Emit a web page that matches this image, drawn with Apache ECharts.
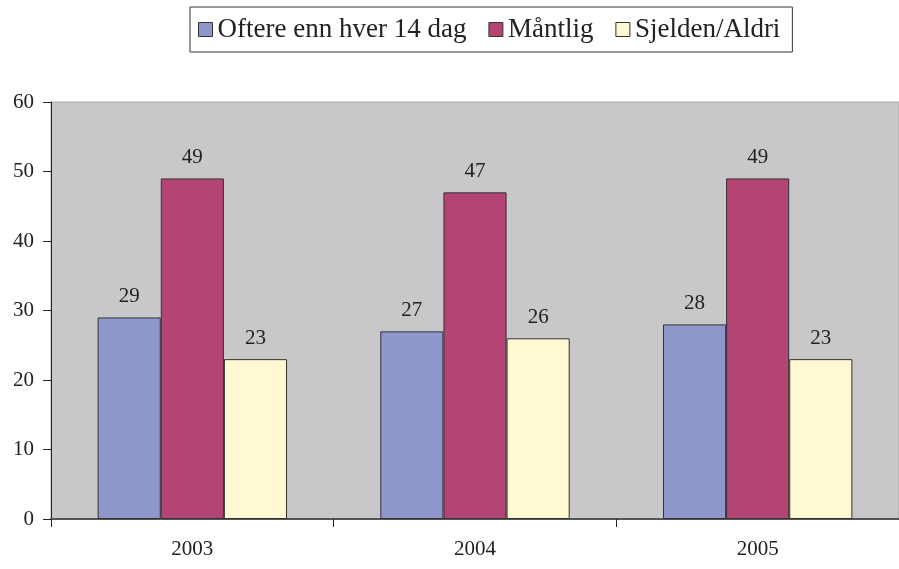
<!DOCTYPE html>
<html>
<head>
<meta charset="utf-8">
<script src="https://cdn.jsdelivr.net/npm/echarts@6/dist/echarts.min.js"></script>
<style>
  html, body { margin: 0; padding: 0; background: #fff; }
  #chart { width: 899px; height: 569px; }
</style>
</head>
<body>
<div id="chart"></div>
<script>
var years = ['2003', '2004', '2005'];
var seriesNames = ['Oftere enn hver 14 dag', 'Måntlig', 'Sjelden/Aldri'];
var oftere = [29, 27, 28];
var mantlig = [49, 47, 49];
var sjelden = [23, 26, 23];
var yTicks = [0, 10, 20, 30, 40, 50, 60];

var colors = ['#8f96cb', '#b44473', '#fff8d2'];
var font = '"Liberation Serif", "DejaVu Serif", serif';

var chart = echarts.init(document.getElementById('chart'));

function barSeries(name, data, i) {
  return {
    name: name,
    type: 'bar',
    data: data,
    barGap: '0%',
    barCategoryGap: '33%',
    itemStyle: { color: colors[i], borderColor: '#333', borderWidth: 1 },
    label: {
      show: true,
      position: 'top',
      distance: 10,
      color: '#222',
      fontSize: 21,
      fontFamily: font
    }
  };
}

chart.setOption({
  animation: false,
  color: colors,
  legend: {
    data: seriesNames,
    left: 190,
    top: 7,
    padding: [9, 12, 9, 8],
    borderColor: '#333',
    borderWidth: 1,
    itemWidth: 14,
    itemHeight: 14,
    itemGap: 22,
    icon: 'rect',
    itemStyle: { borderColor: '#333', borderWidth: 1 },
    textStyle: { fontSize: 27, fontFamily: font, color: '#222' }
  },
  grid: {
    left: 51,
    right: 0,
    top: 102,
    bottom: 50,
    show: true,
    backgroundColor: '#c8c8ca',
    borderColor: '#aaa',
    borderWidth: 1
  },
  xAxis: {
    type: 'category',
    data: years,
    axisLine: { lineStyle: { color: '#555', width: 2 } },
    axisTick: { show: true, length: 8, lineStyle: { color: '#222' } },
    axisLabel: { fontSize: 21, fontFamily: font, color: '#222', margin: 20 }
  },
  yAxis: {
    type: 'value',
    min: yTicks[0],
    max: yTicks[yTicks.length - 1],
    interval: 10,
    axisLine: { show: true, lineStyle: { color: '#222' } },
    axisTick: { show: true, length: 8, lineStyle: { color: '#222' } },
    splitLine: { show: false },
    axisLabel: { fontSize: 21, fontFamily: font, color: '#222', margin: 17 }
  },
  series: [
    barSeries(seriesNames[0], oftere, 0),
    barSeries(seriesNames[1], mantlig, 1),
    barSeries(seriesNames[2], sjelden, 2)
  ]
});
</script>
</body>
</html>
